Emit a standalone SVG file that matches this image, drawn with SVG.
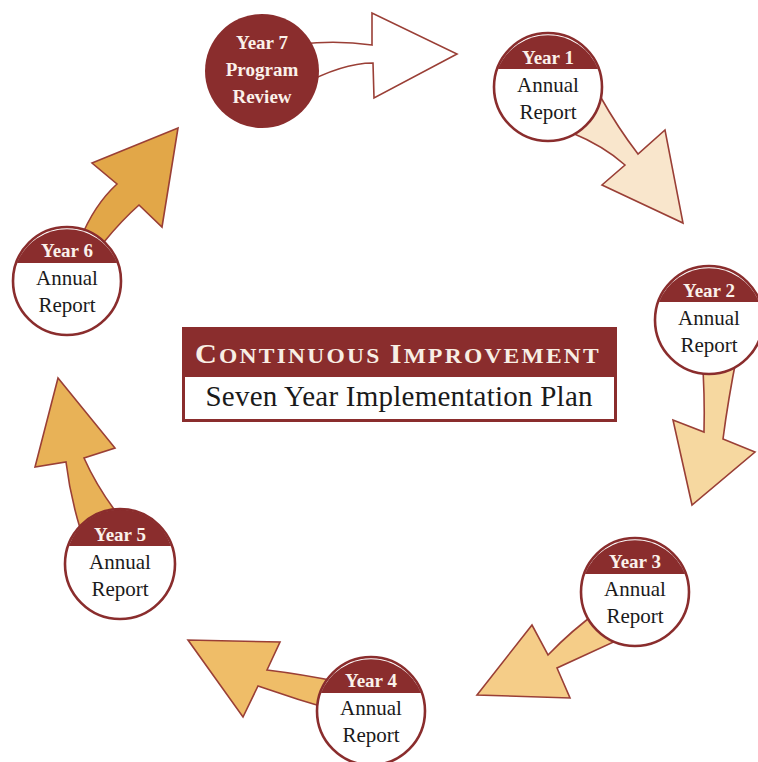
<svg xmlns="http://www.w3.org/2000/svg" width="758" height="762" viewBox="0 0 758 762">
  <style>
    .arrow { stroke: #9a3f36; stroke-width: 1.6; stroke-linejoin: miter; }
    .disc { fill: #ffffff; }
    .band { fill: #8a2d2d; }
    .ring { fill: none; stroke: #8a2d2d; stroke-width: 2.6; }
    .yr { font-family: "Liberation Serif", "DejaVu Serif", serif; font-weight: bold; font-size: 19px; fill: #fbf1ea; text-anchor: middle; }
    .lbl { font-family: "Liberation Serif", "DejaVu Serif", serif; font-size: 21px; fill: #1a1a1a; text-anchor: middle; }
    .title { font-family: "Liberation Serif", "DejaVu Serif", serif; font-weight: bold; fill: #f8eee4; letter-spacing: 2px; }
    .sub { font-family: "Liberation Serif", "DejaVu Serif", serif; font-size: 29px; fill: #1a1a1a; text-anchor: middle; }
  </style>
  <rect width="758" height="762" fill="#ffffff"/>

  <!-- connectors: block arrows between the yearly stages -->
  <g id="connectors">
    <!-- Year 7 to Year 1 -->
    <path class="arrow" fill="#ffffff" d="M300,44 Q338,40 372,45 L372,13 L457,54 L374,98 L373,63 Q342,63 300,86 Z"/>
    <!-- Year 1 to Year 2 -->
    <path class="arrow" fill="#f9e6cc" d="M575,92 L600,96 Q618,128 638,154 L665,130 L683,223 L602,185 L625,165 Q604,146 570,132 Z"/>
    <!-- Year 2 to Year 3 -->
    <path class="arrow" fill="#f6d8a0" d="M702,355 L737,355 Q728,400 723,439 L755,452 L692,505 L673,420 L704,432 Q705,395 702,355 Z"/>
    <!-- Year 3 to Year 4 -->
    <path class="arrow" fill="#f5cd88" d="M600,610 Q572,630 548,655 L532,625 L477,695 L570,698 L557,668 Q585,655 618,640 Z"/>
    <!-- Year 4 to Year 5 -->
    <path class="arrow" fill="#efbd68" d="M340,682 Q300,674 267,670 L280,642 L188,640 L243,717 L258,686 Q298,700 340,712 Z"/>
    <!-- Year 5 to Year 6 -->
    <path class="arrow" fill="#e8b257" d="M80,528 Q70,495 66,462 L35,467 L58,378 L115,448 L84,458 Q96,485 116,512 Z"/>
    <!-- Year 6 to Year 7 -->
    <path class="arrow" fill="#e2a748" d="M80,240 Q94,205 117,184 L92,163 L178,128 L162,227 L139,205 Q122,220 104,242 Z"/>
  </g>

  <!-- Year 7: program review -->
  <g id="year7">
    <circle cx="262" cy="71" r="57" fill="#8a2d2d"/>
    <text class="yr" x="262" y="49" font-size="20">Year 7</text>
    <text class="yr" x="262" y="76" font-size="20">Program</text>
    <text class="yr" x="262" y="103" font-size="20">Review</text>
  </g>

  <g id="year1">
    <circle class="disc" cx="548" cy="87" r="54"/>
    <path class="band" d="M497.9,69 A54 54 0 0 1 598.1,69 Z"/>
    <circle class="ring" cx="548" cy="87" r="54"/>
    <text class="yr" x="548" y="64">Year 1</text>
    <text class="lbl" x="548" y="92">Annual</text>
    <text class="lbl" x="548" y="119">Report</text>
  </g>

  <g id="year2">
    <circle class="disc" cx="709" cy="320" r="54"/>
    <path class="band" d="M658.9,302 A54 54 0 0 1 759.1,302 Z"/>
    <circle class="ring" cx="709" cy="320" r="54"/>
    <text class="yr" x="709" y="297">Year 2</text>
    <text class="lbl" x="709" y="325">Annual</text>
    <text class="lbl" x="709" y="352">Report</text>
  </g>

  <g id="year3">
    <circle class="disc" cx="635" cy="592" r="54"/>
    <path class="band" d="M584.9,574 A54 54 0 0 1 685.1,574 Z"/>
    <circle class="ring" cx="635" cy="592" r="54"/>
    <text class="yr" x="635" y="568">Year 3</text>
    <text class="lbl" x="635" y="596">Annual</text>
    <text class="lbl" x="635" y="623">Report</text>
  </g>

  <g id="year4">
    <circle class="disc" cx="371" cy="711" r="54"/>
    <path class="band" d="M320.9,693 A54 54 0 0 1 421.1,693 Z"/>
    <circle class="ring" cx="371" cy="711" r="54"/>
    <text class="yr" x="371" y="687">Year 4</text>
    <text class="lbl" x="371" y="715">Annual</text>
    <text class="lbl" x="371" y="742">Report</text>
  </g>

  <g id="year5">
    <circle class="disc" cx="120" cy="564" r="55"/>
    <path class="band" d="M68.9,546 A54 54 0 0 1 171.1,546 Z"/>
    <circle class="ring" cx="120" cy="564" r="55"/>
    <text class="yr" x="120" y="541">Year 5</text>
    <text class="lbl" x="120" y="569">Annual</text>
    <text class="lbl" x="120" y="596">Report</text>
  </g>

  <g id="year6">
    <circle class="disc" cx="67" cy="281" r="54"/>
    <path class="band" d="M16.9,263 A54 54 0 0 1 117.1,263 Z"/>
    <circle class="ring" cx="67" cy="281" r="54"/>
    <text class="yr" x="67" y="257">Year 6</text>
    <text class="lbl" x="67" y="285">Annual</text>
    <text class="lbl" x="67" y="312">Report</text>
  </g>

  <!-- central title plate -->
  <g id="title">
    <rect x="183.5" y="328.5" width="432" height="92" fill="#ffffff" stroke="#8a2d2d" stroke-width="3"/>
    <rect x="182" y="327" width="435" height="50" fill="#8a2d2d"/>
    <text class="title" x="195" y="363" textLength="406" lengthAdjust="spacingAndGlyphs"><tspan font-size="27">C</tspan><tspan font-size="21">ONTINUOUS </tspan><tspan font-size="27">I</tspan><tspan font-size="21">MPROVEMENT</tspan></text>
    <text class="sub" x="399" y="406" textLength="387" lengthAdjust="spacing">Seven Year Implementation Plan</text>
  </g>
</svg>
